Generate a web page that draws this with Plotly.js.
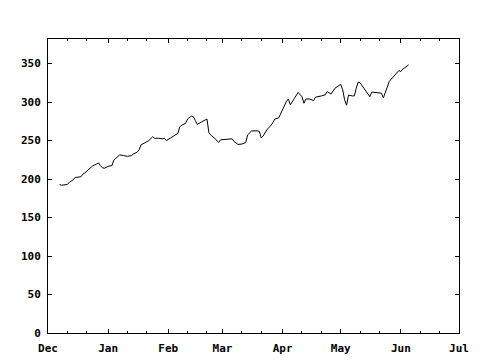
<!DOCTYPE html>
<html>
<head>
<meta charset="utf-8">
<script src="https://cdn.plot.ly/plotly-3.0.1.min.js"></script>
<style>html,body{margin:0;padding:0;background:#fff;}#chart{width:480px;height:360px;}</style>
</head>
<body>
<div id="chart"></div>
<script>
const dates = [
  '2002-12-07','2002-12-08','2002-12-11','2002-12-12','2002-12-14','2002-12-15','2002-12-18','2002-12-19','2002-12-20','2002-12-21',
  '2002-12-23','2002-12-24','2002-12-26','2002-12-27','2002-12-28','2002-12-29','2002-12-30',
  '2003-01-01','2003-01-03','2003-01-04','2003-01-05','2003-01-06','2003-01-07','2003-01-09','2003-01-11','2003-01-13','2003-01-14',
  '2003-01-16','2003-01-17','2003-01-18','2003-01-20','2003-01-22','2003-01-24','2003-01-25','2003-01-27','2003-01-29','2003-01-30','2003-01-31',
  '2003-02-02','2003-02-04','2003-02-06','2003-02-07','2003-02-08','2003-02-10','2003-02-11','2003-02-13','2003-02-14','2003-02-15','2003-02-16',
  '2003-02-18','2003-02-20','2003-02-21','2003-02-22','2003-02-23','2003-02-25','2003-02-27','2003-02-28',
  '2003-03-03','2003-03-06','2003-03-07','2003-03-09','2003-03-11','2003-03-13','2003-03-14','2003-03-15','2003-03-16','2003-03-19',
  '2003-03-20','2003-03-21','2003-03-22','2003-03-24','2003-03-26','2003-03-27','2003-03-28','2003-03-30','2003-03-31',
  '2003-04-02','2003-04-03','2003-04-04','2003-04-05','2003-04-07','2003-04-09','2003-04-11','2003-04-12','2003-04-13','2003-04-15',
  '2003-04-17','2003-04-18','2003-04-21','2003-04-23','2003-04-24','2003-04-26','2003-04-28',
  '2003-05-01','2003-05-02','2003-05-03','2003-05-04','2003-05-05','2003-05-07','2003-05-08','2003-05-09','2003-05-10','2003-05-11',
  '2003-05-13','2003-05-15','2003-05-16','2003-05-17','2003-05-20','2003-05-22','2003-05-23','2003-05-24','2003-05-26','2003-05-28',
  '2003-05-30','2003-05-31','2003-06-01','2003-06-02','2003-06-03','2003-06-05'
];
const values = [
  193,192,193,196,199,202,203,206.5,208,210,
  214,217,219.5,221,217.5,215,214,
  216.5,217.5,225,227,229.5,231.5,230.5,229.5,230.5,232.5,
  235,238,244.5,247.5,250,255,253,253,252.3,253,250,
  253,256.5,259.5,268,270,272.5,278,282,281,276,271,
  274,276,278,260,257,253,247.5,251,
  252,252.3,248.8,245,245.5,247.5,257.5,259.7,262.5,262.7,
  262,253.5,256,264.5,269.5,273.5,278,279.5,285,
  296,301,304,296.5,304.5,312.5,307,298.5,304,304,
  302,306.5,308,309.5,313.7,310.5,318,
  323,316,303,296,309,308,308,318,326,325,
  318,312,307,313,312.5,311.7,305.5,313,326.8,332.5,
  337.7,341,339.7,343,344.5,348.4
];
const monthTicks = ['2002-12-01','2003-01-01','2003-02-01','2003-03-01','2003-04-01','2003-05-01','2003-06-01','2003-07-01'];
const monthLabels = ['Dec','Jan','Feb','Mar','Apr','May','Jun','Jul'];
const minorTicks = ['2002-12-11','2002-12-21','2003-01-11','2003-01-21','2003-02-11','2003-02-21','2003-03-11','2003-03-21',
  '2003-04-11','2003-04-21','2003-05-11','2003-05-21','2003-06-11','2003-06-21'];
const yTicks = [0,50,100,150,200,250,300,350];

const tickFont = {family: 'DejaVu Sans Mono', size: 11, color: '#000', weight: 'bold'};

Plotly.newPlot('chart', [{
  x: dates, y: values, type: 'scatter', mode: 'lines',
  line: {color: '#000', width: 1}, hoverinfo: 'skip'
}], {
  width: 480, height: 360,
  margin: {l: 48, r: 21, t: 39, b: 27, pad: 0},
  paper_bgcolor: '#fff', plot_bgcolor: '#fff',
  showlegend: false,
  xaxis: {
    type: 'date', range: ['2002-12-01', '2003-07-01'],
    tickmode: 'array', tickvals: monthTicks, ticktext: monthLabels,
    ticks: 'inside', ticklen: 4, tickwidth: 1, tickcolor: '#000',
    showline: true, linecolor: '#000', linewidth: 1, mirror: 'ticks',
    showgrid: false, zeroline: false, tickfont: tickFont, ticklabelstandoff: 5,
    minor: {tickmode: 'array', tickvals: minorTicks, ticks: 'inside', ticklen: 2, tickcolor: '#000', showgrid: false}
  },
  yaxis: {
    range: [0, 382], tickmode: 'array', tickvals: yTicks,
    ticks: 'inside', ticklen: 4, tickwidth: 1, tickcolor: '#000',
    showline: true, linecolor: '#000', linewidth: 1, mirror: 'ticks',
    showgrid: false, zeroline: false, tickfont: tickFont, ticklabelstandoff: 4
  }
}, {staticPlot: true});
</script>
</body>
</html>
